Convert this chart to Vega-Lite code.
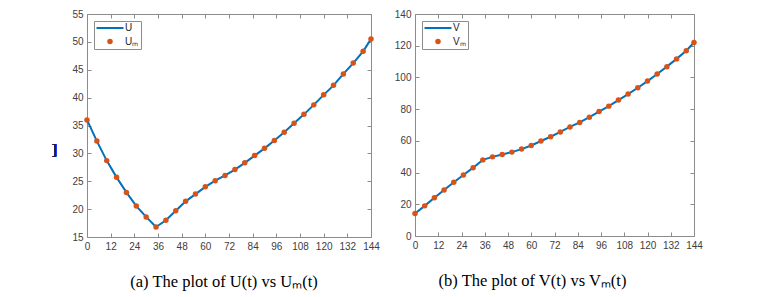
{
  "$schema": "https://vega.github.io/schema/vega-lite/v6.json",
  "background": "white",
  "padding": {"left": 51, "top": 8, "right": 5, "bottom": 2},
  "datasets": {
    "d": [
      {"t": 0, "U": 36.0, "V": 14.2},
      {"t": 5, "U": 32.2, "V": 19.0},
      {"t": 10, "U": 28.7, "V": 24.1},
      {"t": 15, "U": 25.7, "V": 29.0},
      {"t": 20, "U": 23.0, "V": 33.9},
      {"t": 25, "U": 20.55, "V": 38.5},
      {"t": 30, "U": 18.6, "V": 43.1},
      {"t": 35, "U": 16.8, "V": 48.0},
      {"t": 40, "U": 18.0, "V": 49.9},
      {"t": 45, "U": 19.7, "V": 51.4},
      {"t": 50, "U": 21.4, "V": 52.9},
      {"t": 55, "U": 22.7, "V": 54.8},
      {"t": 60, "U": 24.0, "V": 57.1},
      {"t": 65, "U": 25.1, "V": 59.9},
      {"t": 70, "U": 26.05, "V": 62.6},
      {"t": 75, "U": 27.1, "V": 65.6},
      {"t": 80, "U": 28.3, "V": 68.8},
      {"t": 85, "U": 29.6, "V": 71.6},
      {"t": 90, "U": 30.9, "V": 74.9},
      {"t": 95, "U": 32.3, "V": 78.5},
      {"t": 100, "U": 33.8, "V": 81.9},
      {"t": 105, "U": 35.4, "V": 85.7},
      {"t": 110, "U": 37.0, "V": 89.5},
      {"t": 115, "U": 38.7, "V": 93.5},
      {"t": 120, "U": 40.5, "V": 97.7},
      {"t": 125, "U": 42.2, "V": 102.2},
      {"t": 130, "U": 44.25, "V": 106.8},
      {"t": 135, "U": 46.2, "V": 111.7},
      {"t": 140, "U": 48.3, "V": 116.8},
      {"t": 144, "U": 50.5, "V": 122.0}
    ]
  },
  "config": {
    "view": {"stroke": "#8c8c8c", "strokeWidth": 1},
    "axis": {
      "labelFont": "Liberation Sans",
      "labelFontSize": 10,
      "labelColor": "#404040",
      "labelOverlap": false,
      "labelFlush": false,
      "domain": false,
      "grid": false,
      "ticks": true,
      "tickColor": "#8c8c8c",
      "tickSize": -4,
      "labelPadding": 8,
      "title": null
    },
    "legend": {
      "orient": "top-left",
      "offset": 7,
      "padding": 2,
      "strokeColor": "#8c8c8c",
      "fillColor": "white",
      "labelFont": "Liberation Sans",
      "labelFontSize": 10,
      "labelColor": "#262626",
      "symbolSize": 100,
      "symbolOffset": 9,
      "rowPadding": 3.5,
      "labelOffset": 10
    },
    "title": {
      "font": "Liberation Serif",
      "fontSize": 16.5,
      "fontWeight": "normal",
      "color": "black",
      "orient": "bottom",
      "frame": "group",
      "offset": 23
    }
  },
  "spacing": 13,
  "resolve": {"scale": {"color": "independent"}, "legend": {"color": "independent"}},
  "hconcat": [
    {
      "width": 284,
      "height": 223,
      "title": {"text": "(a) The plot of U(t) vs Uₘ(t)", "dx": -5},
      "data": {"name": "d"},
      "layer": [
        {
          "mark": {"type": "line", "strokeWidth": 2, "clip": true},
          "encoding": {
            "x": {"field": "t", "type": "quantitative", "scale": {"domain": [0, 144], "nice": false}, "axis": {"values": [0, 12, 24, 36, 48, 60, 72, 84, 96, 108, 120, 132, 144]}},
            "y": {"field": "U", "type": "quantitative", "scale": {"domain": [15, 55], "nice": false, "zero": false}, "axis": {"values": [15, 20, 25, 30, 35, 40, 45, 50, 55]}},
            "color": {
              "datum": "U",
              "scale": {"domain": ["U", "Uₘ"], "range": ["#0072BD", "#D95319"]},
              "legend": {
                "title": null,
                "encode": {
                  "symbols": {
                    "update": {
                      "shape": {"signal": "datum.value === 'U' ? 'M-2.7,0H2.7' : 'circle'"},
                      "size": {"signal": "datum.value === 'U' ? 100 : 30"},
                      "fill": {"signal": "datum.value === 'U' ? 'transparent' : '#D95319'"},
                      "stroke": {"signal": "datum.value === 'U' ? '#0072BD' : '#D95319'"},
                      "strokeWidth": {"signal": "datum.value === 'U' ? 2 : 0"},
                      "opacity": {"value": 1}
                    }
                  }
                }
              }
            }
          }
        },
        {
          "mark": {"type": "point", "filled": true, "size": 30, "opacity": 1},
          "encoding": {
            "x": {"field": "t", "type": "quantitative", "axis": null},
            "y": {"field": "U", "type": "quantitative", "axis": null},
            "color": {"datum": "Uₘ"}
          }
        },
        {
          "mark": {"type": "point", "opacity": 0},
          "encoding": {
            "x": {"field": "t", "type": "quantitative", "axis": {"orient": "top", "labels": false, "values": [0, 12, 24, 36, 48, 60, 72, 84, 96, 108, 120, 132, 144]}},
            "y": {"field": "U", "type": "quantitative", "axis": {"orient": "right", "labels": false, "values": [15, 20, 25, 30, 35, 40, 45, 50, 55]}}
          }
        },
        {
          "mark": {"type": "text", "text": "]", "font": "Liberation Serif", "fontSize": 15, "color": "#1b1f4a", "clip": false},
          "encoding": {
            "x": {"datum": -16.5, "axis": null},
            "y": {"datum": 30.8, "axis": null}
          }
        }
      ],
      "resolve": {"axis": {"x": "independent", "y": "independent"}}
    },
    {
      "width": 279,
      "height": 222,
      "title": {"text": "(b) The plot of V(t) vs Vₘ(t)", "dx": -22},
      "data": {"name": "d"},
      "layer": [
        {
          "mark": {"type": "line", "strokeWidth": 2, "clip": true},
          "encoding": {
            "x": {"field": "t", "type": "quantitative", "scale": {"domain": [0, 144], "nice": false}, "axis": {"values": [0, 12, 24, 36, 48, 60, 72, 84, 96, 108, 120, 132, 144]}},
            "y": {"field": "V", "type": "quantitative", "scale": {"domain": [0, 140], "nice": false}, "axis": {"values": [0, 20, 40, 60, 80, 100, 120, 140]}},
            "color": {
              "datum": "V",
              "scale": {"domain": ["V", "Vₘ"], "range": ["#0072BD", "#D95319"]},
              "legend": {
                "title": null,
                "encode": {
                  "symbols": {
                    "update": {
                      "shape": {"signal": "datum.value === 'V' ? 'M-2.7,0H2.7' : 'circle'"},
                      "size": {"signal": "datum.value === 'V' ? 100 : 30"},
                      "fill": {"signal": "datum.value === 'V' ? 'transparent' : '#D95319'"},
                      "stroke": {"signal": "datum.value === 'V' ? '#0072BD' : '#D95319'"},
                      "strokeWidth": {"signal": "datum.value === 'V' ? 2 : 0"},
                      "opacity": {"value": 1}
                    }
                  }
                }
              }
            }
          }
        },
        {
          "mark": {"type": "point", "filled": true, "size": 30, "opacity": 1},
          "encoding": {
            "x": {"field": "t", "type": "quantitative", "axis": null},
            "y": {"field": "V", "type": "quantitative", "axis": null},
            "color": {"datum": "Vₘ"}
          }
        },
        {
          "mark": {"type": "point", "opacity": 0},
          "encoding": {
            "x": {"field": "t", "type": "quantitative", "axis": {"orient": "top", "labels": false, "values": [0, 12, 24, 36, 48, 60, 72, 84, 96, 108, 120, 132, 144]}},
            "y": {"field": "V", "type": "quantitative", "axis": {"orient": "right", "labels": false, "values": [0, 20, 40, 60, 80, 100, 120, 140]}}
          }
        }
      ],
      "resolve": {"axis": {"x": "independent", "y": "independent"}}
    }
  ]
}
